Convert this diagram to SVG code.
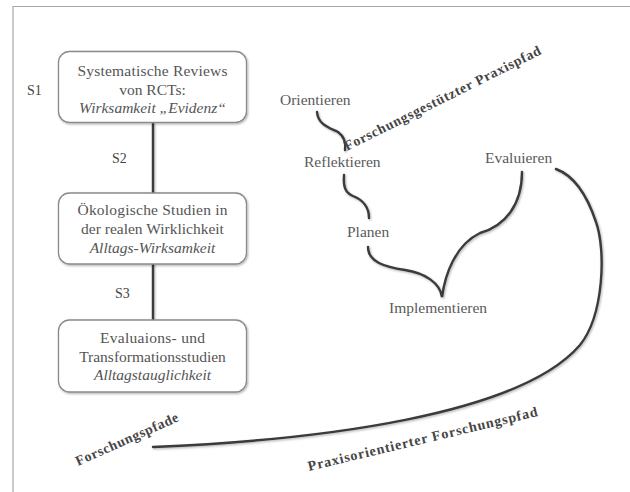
<svg xmlns="http://www.w3.org/2000/svg" width="630" height="492" viewBox="0 0 630 492">
<defs>
<filter id="sh" x="-10%" y="-10%" width="120%" height="120%">
<feDropShadow dx="1" dy="1.2" stdDeviation="0.9" flood-color="#000" flood-opacity="0.3"/>
</filter>
</defs>
<style>
text{font-family:'Liberation Serif','Times New Roman',Tinos,'DejaVu Serif',serif}
.frame{fill:none;stroke:#a8a8a8;stroke-width:1.2}
.box{fill:#fff;stroke:#8a8a8a;stroke-width:1.3}
.t{font-size:15.5px;fill:#555;text-anchor:middle}
.i{font-style:italic}
.s{font-size:14px;fill:#444}
.lbl{font-size:15.5px;fill:#5a5a5a}
.rot{font-size:14px;font-weight:bold;fill:#454545}
.c{fill:none;stroke:#3a3a3a;stroke-width:2.4;stroke-linecap:round}
</style>
<rect width="630" height="492" fill="#fff"/>
<path class="frame" d="M13,492 V6.5 H630"/>

<g id="connectors" filter="url(#sh)">
<path class="c" d="M153,123 V193"/>
<path class="c" d="M153,264 V320"/>
<path class="c" d="M317,112 C318,125 330,128 338,132 C345,137 346,143 345,150"/>
<path class="c" d="M344,175 C343,188 346,193 353,196 C363,200 369,207 369,218"/>
<path class="c" d="M368,247 C368,262 385,267 405,270 C425,273 440,283 442,297 C445,275 455,245 480,233 C505,226 522,205 522,172"/>
<path class="c" d="M153,447 C320,440 520,415 580,345 C604,315 606,250 596,222 C588,198 575,176 556,169"/>
</g>

<g id="s1"><rect class="box" x="58.5" y="51.5" width="188" height="71" rx="11" filter="url(#sh)"/>
<text class="t" x="152.5" y="76" textLength="150" lengthAdjust="spacing">Systematische Reviews</text>
<text class="t" x="152.5" y="95">von RCTs:</text>
<text class="t i" x="152.5" y="113">Wirksamkeit „Evidenz“</text></g>

<g id="s2"><rect class="box" x="58.5" y="193" width="188" height="71" rx="11" filter="url(#sh)"/>
<text class="t" x="152.5" y="215" textLength="150" lengthAdjust="spacing">Ökologische Studien in</text>
<text class="t" x="152.5" y="233.5">der realen Wirklichkeit</text>
<text class="t i" x="152.5" y="252.5">Alltags-Wirksamkeit</text></g>

<g id="s3"><rect class="box" x="58.5" y="320" width="188" height="72" rx="11" filter="url(#sh)"/>
<text class="t" x="152.5" y="343" textLength="105" lengthAdjust="spacing">Evaluaions- und</text>
<text class="t" x="152.5" y="361.5">Transformationsstudien</text>
<text class="t i" x="152.5" y="380">Alltagstauglichkeit</text></g>

<g id="labels-s">
<text class="s" x="27" y="95">S1</text>
<text class="s" x="112" y="163">S2</text>
<text class="s" x="115" y="298">S3</text>
</g>

<g id="orientieren"><text class="lbl" x="280" y="105">Orientieren</text></g>
<g id="reflektieren"><text class="lbl" x="304" y="167">Reflektieren</text></g>
<g id="planen"><text class="lbl" x="347" y="237">Planen</text></g>
<g id="implementieren"><text class="lbl" x="389" y="313">Implementieren</text></g>
<g id="evaluieren"><text class="lbl" x="485" y="163">Evaluieren</text></g>

<g id="paths">
<text class="rot" transform="translate(347,151) rotate(-26.5)" letter-spacing="0.7">Forschungsgestützter Praxispfad</text>
<text class="rot" transform="translate(78,466) rotate(-24)" letter-spacing="0.6">Forschungspfade</text>
<text class="rot" transform="translate(309,471) rotate(-13.5)" letter-spacing="0.9">Praxisorientierter Forschungspfad</text>
</g>
</svg>
